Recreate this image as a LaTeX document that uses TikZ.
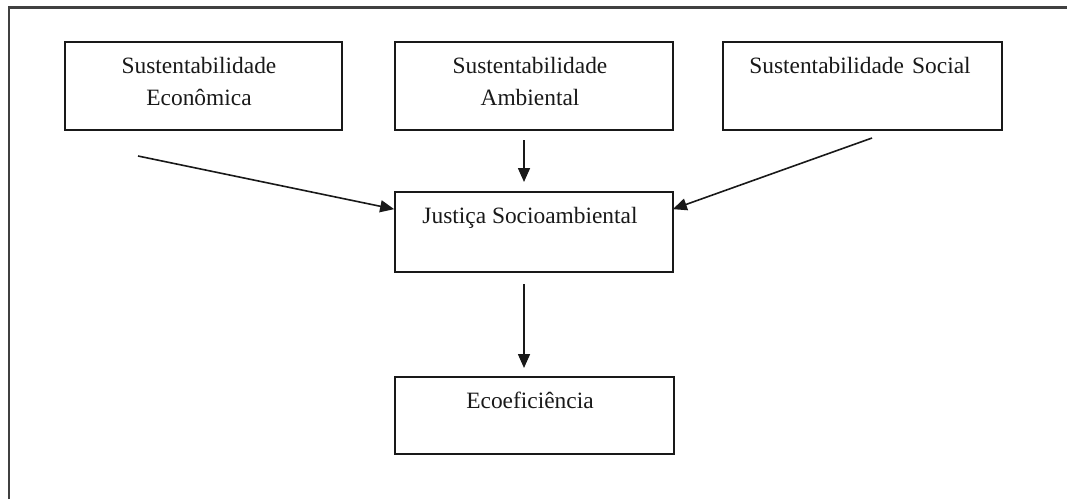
\documentclass[tikz,border=0pt]{standalone}
\usepackage{fontspec}
\setmainfont{Liberation Serif}
\usetikzlibrary{arrows.meta,calc}
\begin{document}
\begin{tikzpicture}[x=1pt,y=-1pt,
  frame/.style={draw=black!75,line width=2.4pt},
  box/.style={draw=black!90,line width=1.7pt,inner sep=0pt,rectangle},
  txt/.style={inner sep=0pt,anchor=base,text=black!90,font=\fontsize{23.4}{32}\selectfont},
  arr/.style={draw=black!90,line width=1.6pt,-{Triangle[length=14pt,width=12pt]}}]
\useasboundingbox (0,0) rectangle (1067,499);
\fill[white] (0,0) rectangle (1067,499);
\draw[frame] (9,499) -- (9,7.5) -- (1067,7.5);
% boxes
\node[box,minimum width=277pt,minimum height=88pt] (b1) at (203.5,86) {};
\node[box,minimum width=278pt,minimum height=88pt] (b2) at (534,86) {};
\node[box,minimum width=279pt,minimum height=88pt] (b3) at (862.5,86) {};
\node[box,minimum width=278pt,minimum height=80pt] (b4) at (534,232) {};
\node[box,minimum width=279pt,minimum height=77pt] (b5) at (534.5,415.5) {};
% texts
\node[txt] (t1a) at (199,73) {Sustentabilidade};
\node[txt] (t1b) at (199,105) {Econômica};
\node[txt] (t2a) at (530,73) {Sustentabilidade};
\node[txt] (t2b) at (530,105) {Ambiental};
\node[txt] (t3) at (860,73) {Sustentabilidade\hspace{0.35em}Social};
\node[txt] (t4) at (530,223) {Justiça Socioambiental};
\node[txt] (t5) at (530,408) {Ecoeficiência};
% connectors
\coordinate (s1) at (138,156);
\coordinate (s2) at (524,140);
\coordinate (e2) at (524,182);
\coordinate (s3) at (872,138);
\coordinate (s4) at (524,284);
\coordinate (e4) at (524,368);
\draw[arr] (s1) -- ($(b4.north west)+(0,18)$);
\draw[arr] (s2) -- (e2);
\draw[arr] (s3) -- ($(b4.north east)+(-1,18)$);
\draw[arr] (s4) -- (e4);
\end{tikzpicture}
\end{document}
